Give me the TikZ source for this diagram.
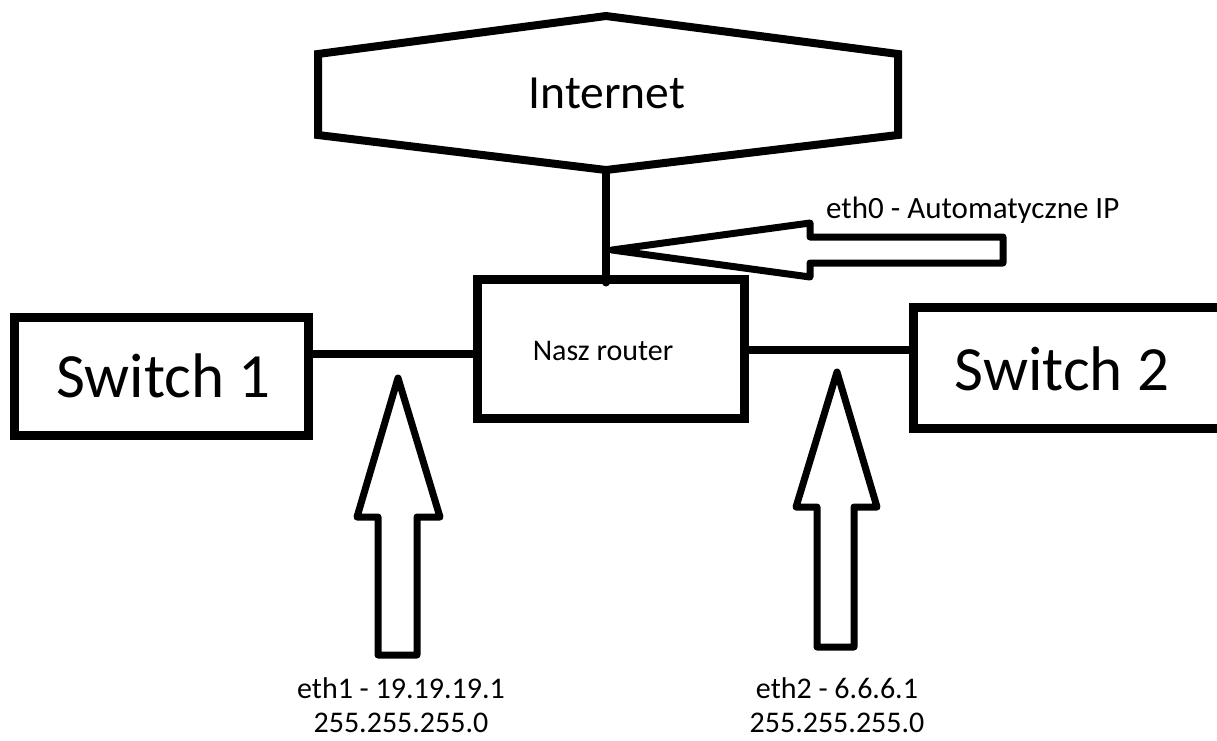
\documentclass[tikz,border=0pt]{standalone}
\usepackage{fontspec}
\setmainfont{Carlito}
\begin{document}
\begin{tikzpicture}[x=1pt,y=-1pt,
  box/.style={draw, rectangle, line width=9pt, inner sep=0pt},
  wire/.style={line width=8pt},
  outline/.style={line width=8pt, line join=miter},
  hollow/.style={line width=7pt, line join=round},
  bigtxt/.style={font=\fontsize{63}{70}\selectfont, inner sep=0pt},
  midtxt/.style={font=\fontsize{47.6}{52}\selectfont, inner sep=0pt},
  smalltxt/.style={font=\fontsize{30}{34}\selectfont, inner sep=0pt},
]
\useasboundingbox (0,0) rectangle (1217,740);

% Internet cloud as a hexagon
\coordinate (inettop) at (606,16);
\coordinate (inetbot) at (606,170);
\draw[outline] (318,54) -- (inettop) -- (898,54) -- (898,135) -- (inetbot) -- (318,135) -- cycle;
\node[midtxt, anchor=base] (internet) at (607,108) {Internet};

% Router and switches
\node[box, minimum width=267pt, minimum height=139pt] (router) at (610.5,348.5) {};
\node[smalltxt, anchor=base] (routerlbl) at (603,360) {Nasz router};

\node[box, minimum width=294pt, minimum height=118pt] (sw1) at (161,376) {};
\node[bigtxt, anchor=base] (sw1lbl) at (163.5,397) {Switch 1};

\node[box, minimum width=330pt, minimum height=121pt] (sw2) at (1078,367.5) {};
\node[bigtxt, anchor=base] (sw2lbl) at (1062,390) {Switch 2};

% Links
\draw[wire, line cap=round] (inetbot) -- ([yshift=-8pt]inetbot |- router.north);
\draw[wire] (sw1.east |- 0,354) -- (router.west |- 0,354);
\draw[wire] (router.east |- 0,350) -- (sw2.west |- 0,350);

% Interface pointers
\draw[hollow] (612,250) -- (810,223) -- (810,237) -- (1003,237) -- (1003,263)
  -- (810,263) -- (810,277) -- cycle;
\node[smalltxt, font=\fontsize{31}{35}\selectfont, anchor=base west] (eth0) at (826,218) {eth0 - Automatyczne IP};

\draw[hollow] (398,378) -- (440,517) -- (417,517) -- (417,655) -- (378,655)
  -- (378,517) -- (357,517) -- cycle;
\node[smalltxt, align=center] (eth1) at (401,705) {eth1 - 19.19.19.1\\255.255.255.0};

\draw[hollow] (837,372) -- (877,507) -- (854,507) -- (854,647) -- (817,647)
  -- (817,507) -- (796,507) -- cycle;
\node[smalltxt, align=center] (eth2) at (837,705) {eth2 - 6.6.6.1\\255.255.255.0};
\end{tikzpicture}
\end{document}
